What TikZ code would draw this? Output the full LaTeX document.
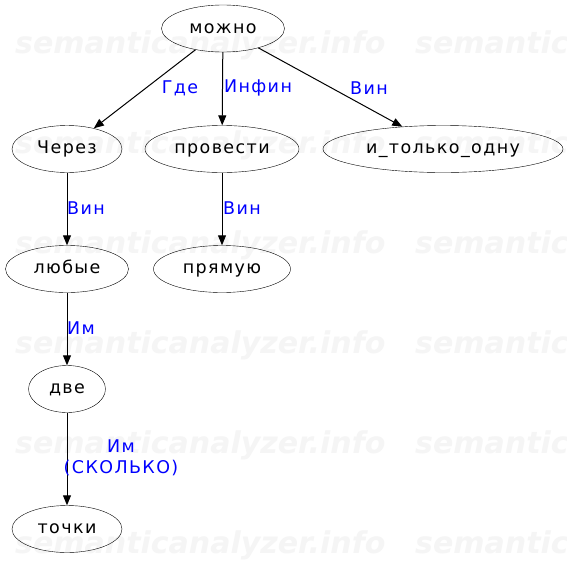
\documentclass[tikz,border=0pt]{standalone}
\usepackage{fontspec}
\setmainfont{DejaVu Sans}
\newfontfamily\graphfont{DejaVu Sans}[LetterSpace=8]
\usetikzlibrary{shapes.geometric,arrows.meta}
\definecolor{wmark}{RGB}{245,245,245}
\tikzset{
  word/.style={draw, ellipse, minimum height=47pt, inner sep=0pt, text height=10pt, text depth=1pt, font=\graphfont\fontsize{17.5}{20}\selectfont},
  rel/.style={text=blue, font=\graphfont\fontsize{17.5}{21}\selectfont, align=center, inner sep=0pt},
  edge/.style={->, >={Triangle[length=10pt,width=8pt]}, line width=1pt},
  wm/.style={text=wmark, font=\fontsize{30}{30}\selectfont\bfseries\itshape, anchor=west, inner sep=0pt}
}
\begin{document}
\begin{tikzpicture}[x=1pt,y=-1pt]
\useasboundingbox (0,0) rectangle (567,560);
\fill[white] (0,0) rectangle (567,560);
\foreach \y in {45,145,245,345,445,545}
  \foreach \x in {15,415}
    \node[wm] at (\x,\y) {semanticanalyzer.info};
% words
\node[word, minimum width=123pt] (mozhno) at (223,28.5) {можно};
\node[word, minimum width=110pt] (cherez) at (67,149) {Через};
\node[word, minimum width=154pt] (provesti) at (222,149) {провести};
\node[word, minimum width=240pt] (odnu) at (443,149) {и\_только\_одну};
\node[word, minimum width=123pt] (lyubye) at (67,269) {любые};
\node[word, minimum width=137pt] (pryamuyu) at (222,269) {прямую};
\node[word, minimum width=77pt] (dve) at (67,389) {две};
\node[word, minimum width=110pt] (tochki) at (67,529) {точки};
% relations
\draw[edge] (mozhno) -- (cherez);
\draw[edge] (mozhno) -- (provesti);
\draw[edge] (mozhno) -- (odnu);
\draw[edge] (cherez) -- (lyubye);
\draw[edge] (provesti) -- (pryamuyu);
\draw[edge] (lyubye) -- (dve);
\draw[edge] (dve) -- (tochki);
\node[rel] (gde) at (180,88) {Где};
\node[rel] (infin) at (258,88) {Инфин};
\node[rel] (vin1) at (369,88) {Вин};
\node[rel] (vin2) at (86,208) {Вин};
\node[rel] (vin3) at (242,208) {Вин};
\node[rel] (im1) at (81,328) {Им};
\node[rel] (im2) at (121,458) {Им\\(СКОЛЬКО)};
\end{tikzpicture}
\end{document}
